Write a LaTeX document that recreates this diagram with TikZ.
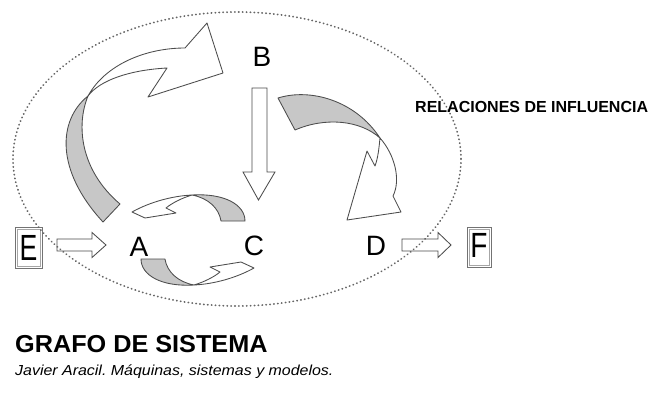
\documentclass[tikz,border=0pt]{standalone}
\usepackage{fontspec}
\setmainfont{Liberation Sans}
\definecolor{bandgray}{gray}{0.78}
\definecolor{edgegray}{gray}{0.30}
\definecolor{dotgray}{gray}{0.40}
\begin{document}
\frenchspacing
\begin{tikzpicture}[x=1pt,y=-1pt,
  band/.style={draw=edgegray,line width=0.85pt,fill=bandgray,line join=round},
  wband/.style={draw=edgegray,line width=0.85pt,fill=white,line join=round},
  blockarrow/.style={draw=edgegray,line width=0.85pt,fill=white,line join=miter},
  letter/.style={font=\fontsize{28}{28}\selectfont,inner sep=0pt},
  boxframe/.style={draw=black!55,line width=0.9pt},
  ellipsedots/.style={draw=dotgray,line width=1.8pt,line cap=round,dash pattern=on 0.3pt off 3.6pt}]
\useasboundingbox (0,0) rectangle (649,392);
\fill[white] (0,0) rectangle (649,392);

% letters
\node[letter] (A) at (139,247) {A};
\node[letter] (B) at (262,57) {B};
\node[letter] (C) at (254,246) {C};
\node[letter] (D) at (376,246) {D};
\node[letter] (E) at (28.5,247.5) {\scalebox{0.95}[1.3]{E}};
\node[letter] (F) at (479,245.5) {\scalebox{1}[1.25]{F}};
\draw[boxframe] (15,227) rectangle (42,268);
\draw[black!35,line width=0.6pt] (17,229) rectangle (40,266);
\draw[boxframe] (467,227) rectangle (491,267);
\draw[black!35,line width=0.6pt] (469,229) rectangle (489,265);

% big left arrow (A -> B)
\draw[band] (103,222) .. controls (55,170) and (58,120) .. (88,96)
  .. controls (76,125) and (80,170) .. (120,204) -- cycle;
\draw[wband] (88,96) .. controls (105,65) and (145,48) .. (185,48)
  -- (207,23) -- (223,73) -- (148,97) -- (167,68)
  .. controls (130,70) and (100,80) .. (88,96) -- cycle;

% big right arrow (B -> D)
\draw[band] (278,98) .. controls (310,88) and (355,100) .. (380,138)
  .. controls (360,120) and (325,117) .. (295,130) -- cycle;
\draw[wband] (380,138) .. controls (395,155) and (401,180) .. (393,196)
  -- (401,212) -- (347,220) -- (367,151) -- (375,166)
  .. controls (378,158) and (379,148) .. (380,138) -- cycle;

% small loop arrows between A and C
\foreach \rot in {0,180}{
\begin{scope}[rotate around={\rot:(193,240)}]
\draw[band] (192,195) .. controls (225,193) and (245,205) .. (245,221)
  -- (221,221) .. controls (219,208) and (208,198) .. (192,195) -- cycle;
\draw[wband] (192,195) .. controls (172,196) and (150,202) .. (132,212)
  -- (145,218) -- (176,213) -- (166,208)
  .. controls (172,203) and (182,198) .. (192,195) -- cycle;
\end{scope}}

% block arrows
\draw[blockarrow] (252,88) -- (267,88) -- (267,172) -- (275,172) -- (258.5,200)
  -- (243,172) -- (252,172) -- cycle;
\draw[blockarrow] (57,239) -- (92,239) -- (92,232.5) -- (106,245) -- (92,257.5)
  -- (92,251) -- (57,251) -- cycle;
\draw[blockarrow] (402,239) -- (438,239) -- (438,232.5) -- (451,245) -- (438,257.5)
  -- (438,251) -- (402,251) -- cycle;

% dotted boundary
\draw[ellipsedots] (237,159) ellipse [x radius=224, y radius=147];

% texts
\node[anchor=base west,inner sep=0pt,font=\fontsize{16}{16}\selectfont\bfseries] (rel) at (415,112) {RELACIONES DE INFLUENCIA};
\node[anchor=base west,inner sep=0pt,font=\fontsize{24.5}{24.5}\selectfont\bfseries] (grafo) at (15,352) {\scalebox{1.03}[1]{GRAFO DE SISTEMA}};
\node[anchor=base west,inner sep=0pt,font=\fontsize{14.5}{14.5}\selectfont\itshape] (ref) at (15,375) {\scalebox{1.1}[1]{Javier Aracil. Máquinas, sistemas y modelos.}};
\end{tikzpicture}
\end{document}
